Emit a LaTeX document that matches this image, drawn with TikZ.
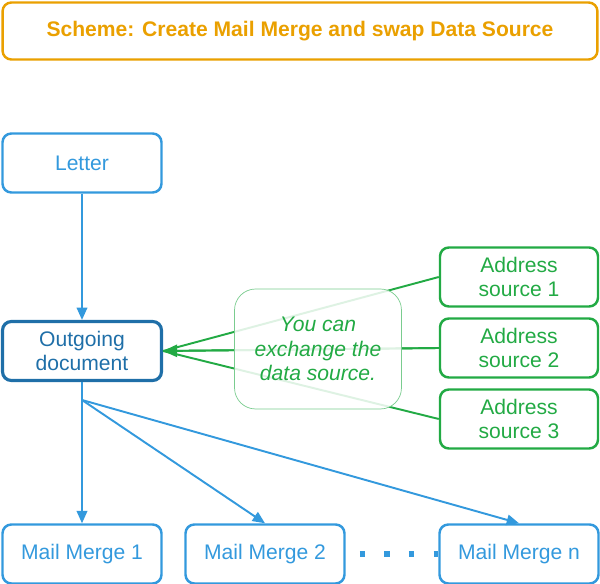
\documentclass[tikz,border=0pt]{standalone}
\usepackage{fontspec}
\setmainfont{Liberation Sans}
\usetikzlibrary{positioning,arrows.meta}
\definecolor{mmblue}{HTML}{3399DD}
\definecolor{mmdark}{HTML}{1F6FA8}
\definecolor{mmgreen}{HTML}{22AA44}
\definecolor{mmorange}{HTML}{EAA000}
\tikzset{
  box/.style={draw=mmblue,line width=1.4pt,rounded corners=5pt,minimum width=3.18cm,minimum height=1.18cm,align=center,text=mmblue,font=\large},
  src/.style={box,draw=mmgreen,text=mmgreen,minimum width=3.16cm},
  link/.style={draw=mmblue,line width=1.1pt,-{Triangle[length=7pt,width=6pt]}},
}
\begin{document}
\begin{tikzpicture}[x=0.02cm,y=-0.02cm]
  \useasboundingbox (0,0) rectangle (600,584);
  \node[draw=mmorange,line width=1.4pt,rounded corners=5pt,minimum width=11.9cm,minimum height=1.14cm,
        text=mmorange,font=\large\bfseries] (title) at (300,31) {Scheme: Create Mail Merge and swap Data Source};

  \node[box] (letter) at (82,163) {Letter};
  \node[box,draw=mmdark,text=mmdark,line width=1.8pt] (out) at (82,351) {Outgoing\\document};
  \node[src] (src1) at (519,277) {Address\\source 1};
  \node[src] (src2) at (519,348) {Address\\source 2};
  \node[src] (src3) at (519,419) {Address\\source 3};
  \node[box] (mm1) at (82,554) {Mail Merge 1};
  \node[box] (mm2) at (265,554) {Mail Merge 2};
  \node[box] (mmn) at (519,554) {Mail Merge n};

  \draw[link] (letter) -- (out);
  \foreach \s in {src1,src2,src3}
    \draw[mmgreen,line width=1.1pt] (\s.west) -- (out.east);
  \draw[mmgreen,line width=1.1pt,-{Triangle[length=8pt,width=7pt]}] (src2.west) -- (out.east);

  \node[draw=mmgreen!60,fill=white,fill opacity=0.85,text opacity=1,rounded corners=12pt,
        minimum width=3.34cm,minimum height=2.4cm,align=center,text=mmgreen,font=\large\itshape] (note) at (318,349)
        {You can\\exchange the\\data source.};

  \coordinate (split) at (82,400);
  \draw[mmblue,line width=1.1pt] (out.south) -- (split);
  \draw[link] (split) -- (mm1.north);
  \draw[link] (split) -- (mm2.north);
  \draw[link] (split) -- (mmn.north);
  \draw[mmblue,line width=3pt,dash pattern=on 3pt off 11pt] ([xshift=8pt]mm2.east) -- (mmn.west);
\end{tikzpicture}
\end{document}
